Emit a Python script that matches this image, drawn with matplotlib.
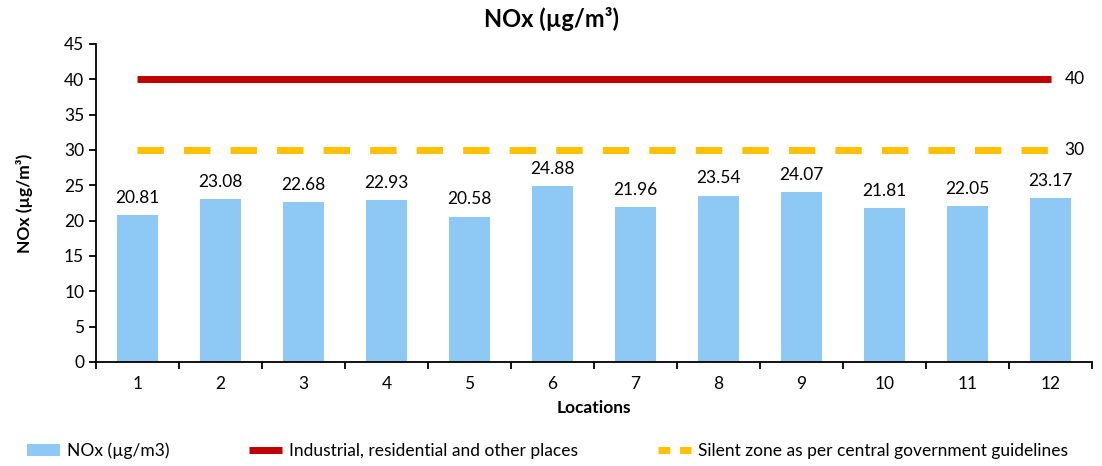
import numpy as np
import matplotlib.pyplot as plt
from matplotlib.lines import Line2D

plt.rcParams['font.family'] = ['Lato', 'DejaVu Sans']

# data
locations = ['1', '2', '3', '4', '5', '6', '7', '8', '9', '10', '11', '12']
nox = [20.81, 23.08, 22.68, 22.93, 20.58, 24.88, 21.96, 23.54, 24.07, 21.81, 22.05, 23.17]
industrial_limit = [40] * 12
silent_limit = [30] * 12

x = np.arange(len(locations))

fig = plt.figure(figsize=(11.02, 4.66), dpi=100)
ax = fig.add_axes([0.0871, 0.2232, 0.904, 0.6824])

bars = ax.bar(x, nox, width=0.5, color='#8EC8F5', label='NOx (µg/m3)', zorder=2)
red, = ax.plot(x, industrial_limit, color='#C00000', lw=5, solid_capstyle='butt',
               label='Industrial, residential and other places', zorder=3)
ax.plot(x, silent_limit, color='#FFC000', lw=5, dashes=(3.8, 2.9), zorder=3)
# legend proxy with shorter dashes, as in the original legend
yel = Line2D([], [], color='#FFC000', lw=5, dashes=(1.7, 1.4),
             label='Silent zone as per central government guidelines')

for xi, v in zip(x, nox):
    ax.text(xi, v + 1.3, f'{v:.2f}', ha='center', va='bottom', fontsize=12.5)

ax.text(x[-1] + 0.17, industrial_limit[-1], str(industrial_limit[-1]), va='center', ha='left', fontsize=12.5)
ax.text(x[-1] + 0.17, silent_limit[-1], str(silent_limit[-1]), va='center', ha='left', fontsize=12.5)

ax.set_xlim(-0.5, len(locations) - 0.5)
ax.set_ylim(0, 45)
ax.set_yticks(np.arange(0, 46, 5))
ax.set_xticks(x)
ax.set_xticklabels(locations)
ax.set_xticks(np.arange(-0.5, len(locations)), minor=True)
ax.tick_params(axis='x', which='major', length=0, pad=10, labelsize=12.5)
ax.tick_params(axis='x', which='minor', length=5, width=1.3, direction='out')
ax.tick_params(axis='y', length=5, width=1.3, labelsize=12.5)

for s in ['top', 'right']:
    ax.spines[s].set_visible(False)
for s in ['left', 'bottom']:
    ax.spines[s].set_linewidth(1.3)

fig.suptitle('NOx (µg/m³)', fontsize=17, fontweight='bold', x=0.5, y=0.985)
ax.set_ylabel('NOx (µg/m³)', fontsize=12.5, fontweight='bold', labelpad=22)
ax.set_xlabel('Locations', fontsize=12.5, fontweight='bold', labelpad=6)

fig.legend(handles=[bars, red, yel], loc='center', bbox_to_anchor=(0.497, 0.032), ncol=3,
           frameon=False, fontsize=12.5, handlelength=1.9, columnspacing=4.6,
           handletextpad=0.4)

fig.savefig('out.png', dpi=100)
